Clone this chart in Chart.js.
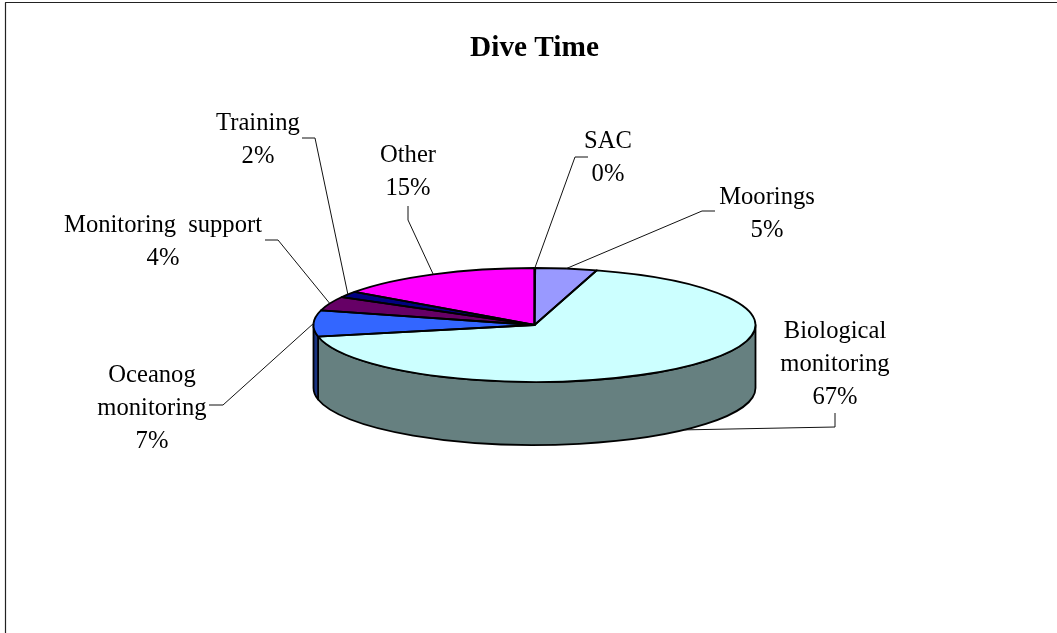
<!DOCTYPE html>
<html>
<head>
<meta charset="utf-8">
<title>Dive Time</title>
<script src="https://cdn.jsdelivr.net/npm/chart.js@4.4.1/dist/chart.umd.min.js"></script>
<style>
  html, body { margin: 0; padding: 0; background: #fff; }
  canvas { display: block; }
</style>
</head>
<body>
<canvas id="chart-dive" width="1057" height="633"></canvas>
<script>
// data (clockwise from 12 o'clock)
const categories = ['SAC', 'Moorings', 'Biological monitoring', 'Oceanog monitoring', 'Monitoring support', 'Training', 'Other'];
const values = [0.05, 4.5, 67.2, 7.4, 4.0, 1.7, 15.15];
const topColors = ['#993366', '#9999FF', '#CCFFFF', '#3366FF', '#660066', '#000080', '#FF00FF'];
const wallColors = ['#4D1A33', '#4D4D80', '#668080', '#1A3380', '#330033', '#000040', '#800080'];

// label layout: text lines (percent is appended), centre x, first baseline y, leader elbow and end
const labelLines = [['SAC'], ['Moorings'], ['Biological', 'monitoring'], ['Oceanog', 'monitoring'], ['Monitoring support'], ['Training'], ['Other']];
const labelX = [608, 767, 835, 152, 163, 258, 408];
const labelY = [148, 204, 338, 382, 232, 130, 162];
const elbows = [[575, 157], [702, 211], [835, 427], [223, 405], [278, 240], [315, 138], [408, 220]];
const leaderEnds = [[588, 157], [715, 211], [835, 413], [209, 405], [265, 240], [302, 138], [408, 206]];

const SQUASH = 57 / 221;   // tilt of the pie
const DEPTH = 63;          // wall height
const LINE_GAP = 33;
const LABEL_FONT = '24.6px "Liberation Serif"';

function arcPath(ctx, a, from, to, dy, back) {
  ctx.ellipse(a.x, a.y + dy, a.outerRadius, a.outerRadius * SQUASH, 0, from, to, back);
}

const pie3d = {
  id: 'pie3d',
  beforeDatasetsDraw(chart) {
    // front wall, only the part of each slice facing the viewer
    const ctx = chart.ctx;
    chart.getDatasetMeta(0).data.forEach((arc, i) => {
      const from = Math.max(arc.startAngle, 0);
      const to = Math.min(arc.endAngle, Math.PI);
      if (to <= from) return;
      ctx.beginPath();
      arcPath(ctx, arc, from, to, 0, false);
      arcPath(ctx, arc, to, from, DEPTH, true);
      ctx.closePath();
      ctx.fillStyle = wallColors[i];
      ctx.fill();
      ctx.lineWidth = 1.8;
      ctx.lineJoin = 'round';
      ctx.strokeStyle = '#000';
      ctx.stroke();
    });
  },
  beforeDatasetDraw(chart) {
    const ctx = chart.ctx;
    const arc = chart.getDatasetMeta(0).data[0];
    ctx.save();
    ctx.translate(arc.x, arc.y);
    ctx.scale(1, SQUASH);
    ctx.translate(-arc.x, -arc.y);
  },
  afterDatasetDraw(chart) {
    chart.ctx.restore();
  },
  afterDatasetsDraw(chart) {
    const ctx = chart.ctx;
    const arcs = chart.getDatasetMeta(0).data;
    // slice outlines, drawn here so the tilt does not thin them
    arcs.forEach(arc => {
      ctx.beginPath();
      ctx.moveTo(arc.x, arc.y);
      arcPath(ctx, arc, arc.startAngle, arc.endAngle, 0, false);
      ctx.closePath();
      ctx.lineWidth = 1.8;
      ctx.lineJoin = 'round';
      ctx.strokeStyle = '#000';
      ctx.stroke();
    });
    // leaders and labels
    ctx.fillStyle = '#000';
    ctx.font = LABEL_FONT;
    ctx.wordSpacing = '6px';
    ctx.textAlign = 'center';
    ctx.textBaseline = 'alphabetic';
    arcs.forEach((arc, i) => {
      const mid = (arc.startAngle + arc.endAngle) / 2;
      const ax = arc.x + arc.outerRadius * Math.cos(mid);
      let ay = arc.y + arc.outerRadius * SQUASH * Math.sin(mid);
      if (Math.sin(mid) > 0.1) ay += DEPTH;
      ctx.beginPath();
      ctx.moveTo(ax, ay);
      ctx.lineTo(elbows[i][0], elbows[i][1]);
      ctx.lineTo(leaderEnds[i][0], leaderEnds[i][1]);
      ctx.lineWidth = 1;
      ctx.strokeStyle = '#111';
      ctx.stroke();
      const lines = labelLines[i].concat(Math.round(values[i]) + '%');
      lines.forEach((t, n) => ctx.fillText(t, labelX[i], labelY[i] + n * LINE_GAP));
    });
    ctx.wordSpacing = '0px';
    // frame of the original figure: top and left edges only
    ctx.beginPath();
    ctx.moveTo(5.5, 633);
    ctx.lineTo(5.5, 2.5);
    ctx.lineTo(1057, 2.5);
    ctx.lineWidth = 1.2;
    ctx.strokeStyle = '#222';
    ctx.stroke();
  }
};

new Chart(document.getElementById('chart-dive'), {
  type: 'pie',
  data: {
    labels: categories,
    datasets: [{
      data: values,
      backgroundColor: topColors,
      borderWidth: 0
    }]
  },
  options: {
    responsive: false,
    animation: false,
    events: [],
    layout: {
      padding: { left: 313.5, right: 301.5, top: 0, bottom: 87 }
    },
    plugins: {
      legend: { display: false },
      tooltip: { enabled: false },
      title: {
        display: true,
        text: 'Dive Time',
        color: '#000',
        font: { family: '"Liberation Serif"', size: 29.3, weight: 'bold' },
        padding: { top: 31, bottom: 37.8 }
      }
    }
  },
  plugins: [pie3d]
});
</script>
</body>
</html>
